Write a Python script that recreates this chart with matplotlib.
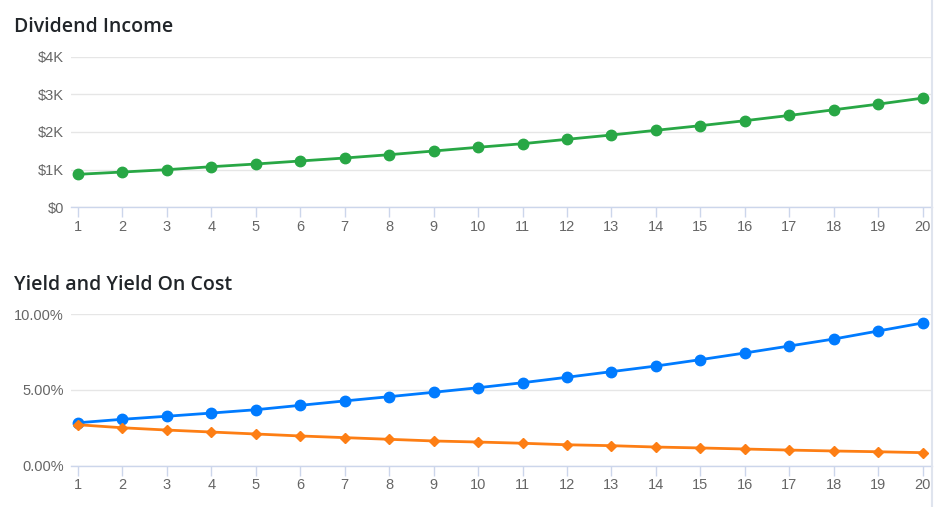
import numpy as np
import matplotlib
matplotlib.use("Agg")
import matplotlib.pyplot as plt
from matplotlib.ticker import FuncFormatter
from matplotlib.lines import Line2D

# years on the x axis
years = list(range(1, 21))

# dividend income in dollars
income = [876, 937, 999, 1078, 1150, 1230, 1309, 1397, 1495, 1594,
          1689, 1806, 1920, 2045, 2168, 2300, 2440, 2590, 2740, 2900]

# yield on cost and current yield, percent
yield_on_cost = [2.83, 3.06, 3.26, 3.47, 3.69, 3.98, 4.27, 4.55, 4.84, 5.14,
                 5.47, 5.83, 6.20, 6.57, 6.99, 7.43, 7.89, 8.35, 8.88, 9.41]
yield_pct = [2.70, 2.50, 2.35, 2.22, 2.09, 1.96, 1.85, 1.74, 1.63, 1.56,
             1.48, 1.38, 1.32, 1.23, 1.17, 1.10, 1.03, 0.97, 0.92, 0.86]

income_ticks = [0, 1000, 2000, 3000, 4000]
yield_ticks = [0, 5, 10]

GREEN = '#28a745'
BLUE = '#007bff'
ORANGE = '#fd7e14'
AXIS = '#ccd6eb'
GRID = '#e6e6e6'
LABEL = '#666666'
TITLE = '#212529'

W, H = 936, 507
fig = plt.figure(figsize=(W / 100, H / 100), dpi=100)


def frac_box(left, right, top, bottom):
    """Convert pixel box to figure fraction rectangle."""
    return [left / W, 1 - bottom / H, (right - left) / W, (bottom - top) / H]


def style_axes(ax, ticks, fmt, top):
    ax.set_xlim(0.843, 20.21)
    ax.set_ylim(0, top)
    ax.set_xticks(years)
    ax.set_yticks(ticks)
    ax.yaxis.set_major_formatter(FuncFormatter(fmt))
    for side in ('top', 'right', 'left'):
        ax.spines[side].set_visible(False)
    ax.spines['bottom'].set_color(AXIS)
    ax.spines['bottom'].set_linewidth(1)
    ax.grid(axis='y', color=GRID, linewidth=1)
    ax.set_axisbelow(True)
    ax.tick_params(axis='x', length=7, width=1, color=AXIS, colors=LABEL,
                   labelsize=10.5, pad=2)
    ax.tick_params(axis='y', length=0, colors=LABEL, labelsize=10.5, pad=5)
    for lab in ax.get_xticklabels() + ax.get_yticklabels():
        lab.set_fontfamily('Liberation Sans')


# Dividend income
ax1 = fig.add_axes(frac_box(71, 932, 56.7, 207.3))
ax1.plot(years, income, color=GREEN, lw=2, marker='o', ms=7.5,
         clip_on=False, zorder=3)
style_axes(ax1, income_ticks,
           lambda v, p: '$0' if v == 0 else f'${int(v / 1000)}K', 4000)

# Yield and yield on cost
ax2 = fig.add_axes(frac_box(71, 932, 314, 465.7))
ax2.plot(years, yield_on_cost, color=BLUE, lw=2, marker='o', ms=7.5,
         clip_on=False, zorder=3)
ax2.plot(years, yield_pct, color=ORANGE, lw=2, marker='D', ms=5,
         clip_on=False, zorder=3)
style_axes(ax2, yield_ticks, lambda v, p: f'{v:.2f}%', 10)

fig.text(14 / W, 1 - 32 / H, 'Dividend Income', fontsize=14,
         fontweight='semibold', color=TITLE, va='baseline', ha='left',
         family='Open Sans')
fig.text(14 / W, 1 - 290 / H, 'Yield and Yield On Cost', fontsize=14,
         fontweight='semibold', color=TITLE, va='baseline', ha='left',
         family='Open Sans')

# page border on the right
fig.add_artist(Line2D([932 / W, 932 / W], [0, 1], transform=fig.transFigure,
                      color='#dfe4ee', lw=1.5))

fig.savefig('out.png', dpi=100)
